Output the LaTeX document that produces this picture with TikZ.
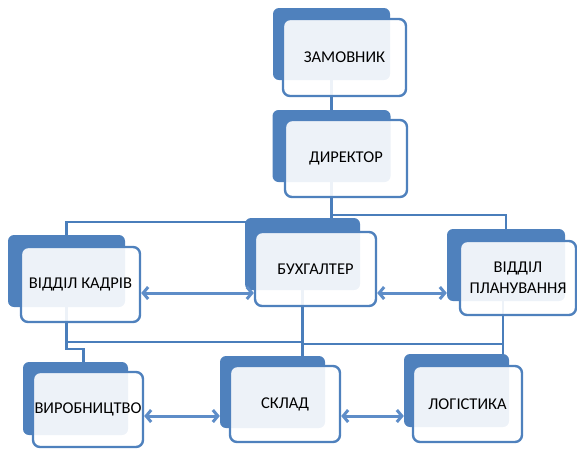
\documentclass[tikz,border=0pt]{standalone}
\usepackage{fontspec}
\setmainfont{Carlito}
\usetikzlibrary{arrows.meta,backgrounds}
\definecolor{accent}{HTML}{4F81BD}
\definecolor{linkcol}{HTML}{4A7EBB}
\definecolor{arrowcol}{HTML}{5E8DC8}

\begin{document}
\begin{tikzpicture}[x=1pt,y=-1pt,
    back/.style={rectangle,fill=accent,rounded corners=6pt,inner sep=0},
    front/.style={rectangle,draw=accent,line width=2.4pt,fill=white,fill opacity=0.9,
        draw opacity=1,text opacity=1,rounded corners=7pt,align=center,inner sep=0,
        font=\fontsize{16.5}{21}\selectfont},
    link/.style={draw=linkcol,line width=2.2pt},
    twoway/.style={arrowcol,line width=3pt,
        {Straight Barb[length=5pt,width=12pt]}-{Straight Barb[length=5pt,width=12pt]}}]
    \useasboundingbox (0,0) rectangle (577,448);

    \draw
    (331.5,44)node[back,minimum width=117pt,minimum height=72pt](zamb){}
    (344.5,57.5)node[front,minimum width=123pt,minimum height=77pt](zam){ЗАМОВНИК}

    (331.5,146)node[back,minimum width=118pt,minimum height=72pt](dirb){}
    (346,158.5)node[front,minimum width=122pt,minimum height=77pt](dir){ДИРЕКТОР}

    (66.5,271)node[back,minimum width=117pt,minimum height=72pt](kadb){}
    (80.5,284.5)node[front,minimum width=119pt,minimum height=75pt](kad){ВІДДІЛ КАДРІВ}

    (302.5,254)node[back,minimum width=115pt,minimum height=72pt](buhb){}
    (315.5,269)node[front,minimum width=121pt,minimum height=74pt](buh){БУХГАЛТЕР}

    (506,265)node[back,minimum width=118pt,minimum height=72pt](planb){}
    (518,278)node[front,minimum width=116pt,minimum height=74pt](plan){ВІДДІЛ\\ПЛАНУВАННЯ}

    (75.5,398.5)node[back,minimum width=105pt,minimum height=73pt](vyrb){}
    (88,409.5)node[front,minimum width=110pt,minimum height=75pt](vyr){ВИРОБНИЦТВО}

    (272.5,392)node[back,minimum width=105pt,minimum height=72pt](sklb){}
    (285,404)node[front,minimum width=110pt,minimum height=76pt](skl){СКЛАД}

    (456.5,390.5)node[back,minimum width=105pt,minimum height=73pt](logb){}
    (467.5,404)node[front,minimum width=109pt,minimum height=76pt](log){ЛОГІСТИКА}
    ;

    % levels of the links
    \coordinate (t1) at (0,215);
    \coordinate (t2) at (0,222);
    \coordinate (r3a) at (0,342);
    \coordinate (r3b) at (0,349);
    \coordinate (r3c) at (0,344);
    \coordinate (r2) at (0,293);
    \coordinate (r3) at (0,416);
    \coordinate (sk) at ([xshift=30pt]sklb.north);
    \coordinate (vy) at ([xshift=8pt]vyrb.north);
    \coordinate (pl) at ([xshift=-3pt]planb.south);

    \begin{scope}[on background layer]
    \draw[link](zamb.south)--(dirb.north);
    \draw[link](dirb.south)--(dirb.south |- t1)-|(planb.north);
    \draw[link](dirb.south |- t1)--(dirb.south |- t2)-|(kadb.north);
    \draw[link](kadb.south)--(kadb.south |- r3a)-|(sk);
    \draw[link](kadb.south |- r3a)--(kadb.south |- r3b)-|(vy);
    \draw[link](buhb.south)|-(pl |- r3c);
    \draw[link](pl)--(pl |- logb.north);
    \end{scope}

    \draw[twoway](kad.east |- r2)--(buh.west |- r2);
    \draw[twoway](buh.east |- r2)--(planb.west |- r2);
    \draw[twoway](vyr.east |- r3)--(sklb.west |- r3);
    \draw[twoway](skl.east |- r3)--(logb.west |- r3);

\end{tikzpicture}
\end{document}
